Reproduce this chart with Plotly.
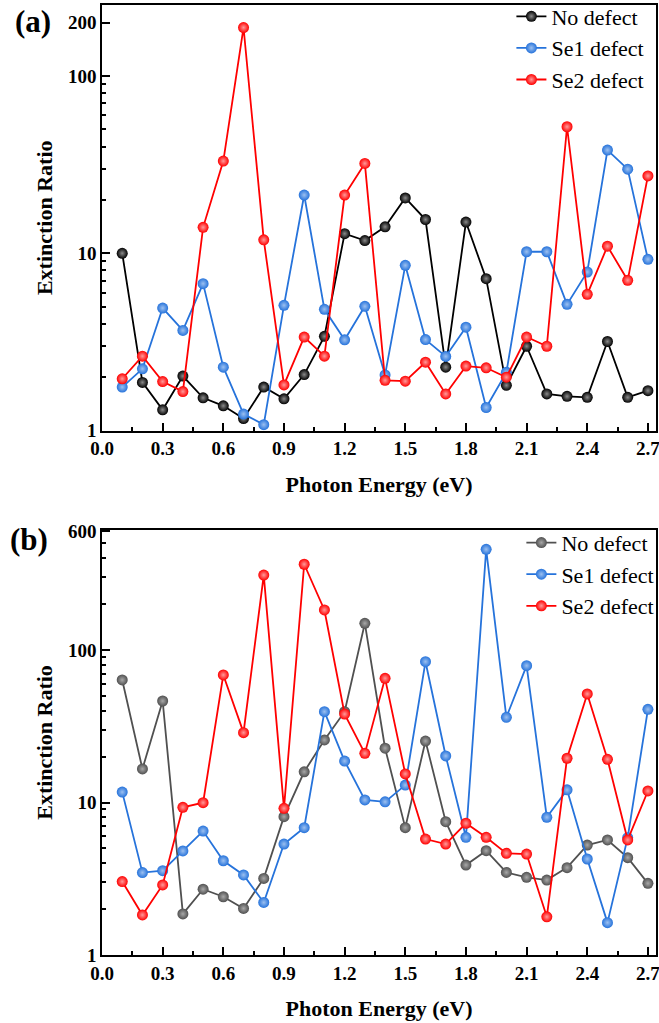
import plotly.graph_objects as go

# ---------------- data ----------------
energy = [0.1, 0.2, 0.3, 0.4, 0.5, 0.6, 0.7, 0.8, 0.9, 1.0, 1.1, 1.2, 1.3, 1.4,
          1.5, 1.6, 1.7, 1.8, 1.9, 2.0, 2.1, 2.2, 2.3, 2.4, 2.5, 2.6, 2.7]

a_no_defect = [10.0, 1.87, 1.31, 2.03, 1.53, 1.38, 1.17, 1.76, 1.51, 2.07, 3.40, 12.9, 11.8, 14.1,
               20.5, 15.5, 2.28, 15.0, 7.19, 1.80, 2.99, 1.61, 1.56, 1.54, 3.18, 1.54, 1.68]
a_se1_defect = [1.76, 2.23, 4.91, 3.67, 6.74, 2.28, 1.24, 1.08, 5.09, 21.3, 4.83, 3.25, 5.02, 2.06,
                8.55, 3.26, 2.62, 3.83, 1.35, 2.13, 10.2, 10.2, 5.15, 7.84, 38.2, 29.8, 9.25]
a_se2_defect = [1.96, 2.63, 1.89, 1.66, 14.0, 33.1, 187.5, 11.9, 1.81, 3.37, 2.63, 21.3, 32.1, 1.92,
                1.90, 2.43, 1.61, 2.31, 2.26, 2.00, 3.37, 2.99, 51.7, 5.87, 10.96, 7.04, 27.3]

b_no_defect = [63.6, 16.6, 46.3, 1.86, 2.70, 2.41, 2.02, 3.18, 8.07, 15.9, 25.7, 39.4, 149.6, 22.7,
               6.84, 25.3, 7.48, 3.89, 4.83, 3.48, 3.23, 3.10, 3.74, 5.26, 5.68, 4.35, 2.95]
b_se1_defect = [11.7, 3.47, 3.57, 4.81, 6.50, 4.15, 3.35, 2.21, 5.34, 6.84, 39.4, 18.7, 10.4, 10.1,
                13.0, 83.8, 20.2, 5.91, 457.0, 36.2, 78.9, 8.0, 12.1, 4.26, 1.63, 5.88, 40.8]
b_se2_defect = [3.03, 1.83, 2.88, 9.30, 9.97, 68.6, 28.7, 310.0, 9.16, 365.0, 183.0, 38.0, 21.0, 65.2,
                15.4, 5.76, 5.34, 7.31, 5.91, 4.64, 4.59, 1.78, 19.5, 51.5, 19.2, 5.68, 11.9]

series_names = ["No defect", "Se1 defect", "Se2 defect"]

x_tickvals = [0.0, 0.3, 0.6, 0.9, 1.2, 1.5, 1.8, 2.1, 2.4, 2.7]
a_y_tickvals = [1, 10, 100, 200]
a_y_ticktext = ["1", "10", "100", "200"]
a_y_minor = [2, 3, 4, 5, 6, 7, 8, 9, 20, 30, 40, 50, 60, 70, 80, 90]
b_y_tickvals = [1, 10, 100, 600]
b_y_ticktext = ["1", "10", "100", "600"]
b_y_minor = [2, 3, 4, 5, 6, 7, 8, 9, 20, 30, 40, 50, 60, 70, 80, 90, 200, 300, 400, 500]

# ---------------- styles ----------------
SERIF = "Liberation Serif, Times New Roman, serif"
a_colors = ["#000000", "#2673DB", "#FF0000"]
a_centers = ["#8a8a8a", "#9cc0f0", "#ff9a9a"]
b_colors = ["#505050", "#2673DB", "#FF0000"]
b_centers = ["#a8a8a8", "#9cc0f0", "#ff9a9a"]

fig = go.Figure()

def add_series(xs, ys, name, color, center, xa, ya, legend):
    fig.add_trace(go.Scatter(
        x=xs, y=ys, name=name, mode="lines+markers",
        xaxis=xa, yaxis=ya, legend=legend,
        line=dict(color=color, width=1.8),
        marker=dict(size=11, color=color, line=dict(width=0),
                    gradient=dict(type="radial", color=center)),
    ))

for name, ys, c, cc in zip(series_names, [a_no_defect, a_se1_defect, a_se2_defect], a_colors, a_centers):
    add_series(energy, ys, name, c, cc, "x", "y", "legend")
for name, ys, c, cc in zip(series_names, [b_no_defect, b_se1_defect, b_se2_defect], b_colors, b_centers):
    add_series(energy, ys, name, c, cc, "x2", "y2", "legend2")

tickfont = dict(family=SERIF, size=19, color="black", weight="bold")
titlefont = dict(family=SERIF, size=22, color="black", weight="bold")

def xaxis_style(anchor):
    return dict(
        anchor=anchor, domain=[0, 1], range=[0, 2.74],
        tickmode="array", tickvals=x_tickvals, ticktext=[f"{v:.1f}" for v in x_tickvals],
        ticks="inside", ticklen=8, tickwidth=1.5, tickcolor="black",
        ticklabeloverflow="allow",
        minor=dict(tickmode="linear", tick0=0.15, dtick=0.3, ticks="inside", ticklen=4,
                   tickwidth=1.5, tickcolor="black"),
        showline=True, linecolor="black", linewidth=1.6, mirror=True,
        showgrid=False, zeroline=False, tickfont=tickfont,
        title=dict(text="Photon Energy (eV)", font=titlefont, standoff=18),
    )

def yaxis_style(anchor, domain, rng, tv, tt, minor):
    return dict(
        anchor=anchor, domain=domain, type="log", range=rng,
        tickmode="array", tickvals=tv, ticktext=tt,
        ticks="inside", ticklen=8, tickwidth=1.5, tickcolor="black",
        ticklabeloverflow="allow",
        minor=dict(tickmode="array", tickvals=minor, ticks="inside", ticklen=4,
                   tickwidth=1.5, tickcolor="black"),
        showline=True, linecolor="black", linewidth=1.6, mirror=True,
        showgrid=False, zeroline=False, tickfont=tickfont,
        title=dict(text="Extinction Ratio", font=titlefont, standoff=9),
    )

legend_font = dict(family=SERIF, size=22, color="black")

fig.update_layout(
    width=659, height=1023,
    margin=dict(l=102, r=3, t=5, b=68, autoexpand=False),
    paper_bgcolor="white", plot_bgcolor="white",
    xaxis=xaxis_style("y"),
    yaxis=yaxis_style("x", [0.552, 1.0], [0, 2.40], a_y_tickvals, a_y_ticktext, a_y_minor),
    xaxis2=xaxis_style("y2"),
    yaxis2=yaxis_style("x2", [0.0, 0.4474], [0, 2.787], b_y_tickvals, b_y_ticktext, b_y_minor),
    legend=dict(x=0.739, y=1.010, xanchor="left", yanchor="top", font=legend_font,
                bgcolor="rgba(0,0,0,0)", tracegroupgap=0, itemwidth=30),
    legend2=dict(x=0.757, y=0.456, xanchor="left", yanchor="top", font=legend_font,
                 bgcolor="rgba(0,0,0,0)", tracegroupgap=0, itemwidth=30),
    showlegend=True,
    annotations=[
        dict(text="(a)", x=-0.124, y=0.983, xref="paper", yref="paper", showarrow=False,
             xanchor="center", yanchor="middle",
             font=dict(family=SERIF, size=31, color="black", weight="bold")),
        dict(text="(b)", x=-0.131, y=0.437, xref="paper", yref="paper", showarrow=False,
             xanchor="center", yanchor="middle",
             font=dict(family=SERIF, size=31, color="black", weight="bold")),
    ],
)

fig.write_html(
    "out.html",
    config={"displayModeBar": False},
    post_script="document.body.style.margin='0';document.body.style.overflow='hidden';",
)
